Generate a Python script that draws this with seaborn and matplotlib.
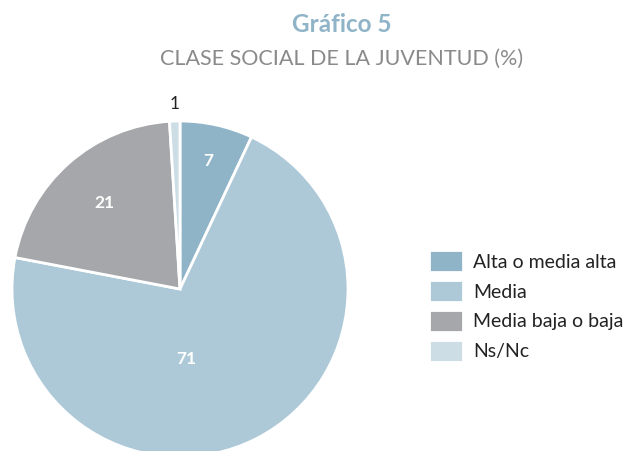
import matplotlib
matplotlib.use("Agg")
import matplotlib.pyplot as plt
import numpy as np
import seaborn as sns

categories = ["Alta o media alta", "Media", "Media baja o baja", "Ns/Nc"]
values = [7, 71, 21, 1]
colors = ["#8fb4c8", "#adc9d8", "#a5a7ab", "#cddde6"]
label_colors = ["white", "white", "white", "#222222"]
# radial position of each value label, as a fraction of the radius
label_radius = [0.78, 0.42, 0.68, 1.1]
# small angular nudge (deg) for labels
label_nudge = [0, -22, 0, 0]

sns.set_theme(style="white")
plt.rcParams["font.family"] = ["Lato", "DejaVu Sans"]

W, H = 631, 451
fig = plt.figure(figsize=(W / 100, H / 100), dpi=100)

cx, cy, r = 180, 289, 168
ax = fig.add_axes([(cx - r) / W, (H - cy - r) / H, 2 * r / W, 2 * r / H])
wedges, _ = ax.pie(
    values,
    colors=colors,
    startangle=90,
    counterclock=False,
    radius=1,
    wedgeprops={"edgecolor": "white", "linewidth": 2},
)
for w in wedges:
    w.set_clip_on(False)
ax.set_xlim(-1, 1)
ax.set_ylim(-1, 1)
ax.set_aspect("auto")
ax.axis("off")

for w, v, rr, nd, c in zip(wedges, values, label_radius, label_nudge, label_colors):
    ang = np.deg2rad((w.theta1 + w.theta2) / 2 + nd)
    ax.text(rr * np.cos(ang), rr * np.sin(ang), str(v), ha="center", va="center",
            color=c, fontsize=12.5, fontweight="bold" if c == "white" else "normal",
            clip_on=False)

fig.legend(
    wedges, categories,
    loc="center left", bbox_to_anchor=(411 / W, (H - 306) / H),
    frameon=False, fontsize=14,
    handlelength=1.75, handleheight=1.4, handletextpad=0.55, labelspacing=0.38,
    labelcolor="#222222",
)

fig.text(342 / W, 1 - 24 / H, "Gráfico 5", ha="center", va="center",
         fontsize=17.5, fontweight="bold", color="#8fb4c8")
fig.text(342 / W, 1 - 59 / H, "CLASE SOCIAL DE LA JUVENTUD (%)", ha="center", va="center",
         fontsize=15.5, fontweight="normal", color="#8a8a8a")

fig.savefig("out.png", dpi=100)
